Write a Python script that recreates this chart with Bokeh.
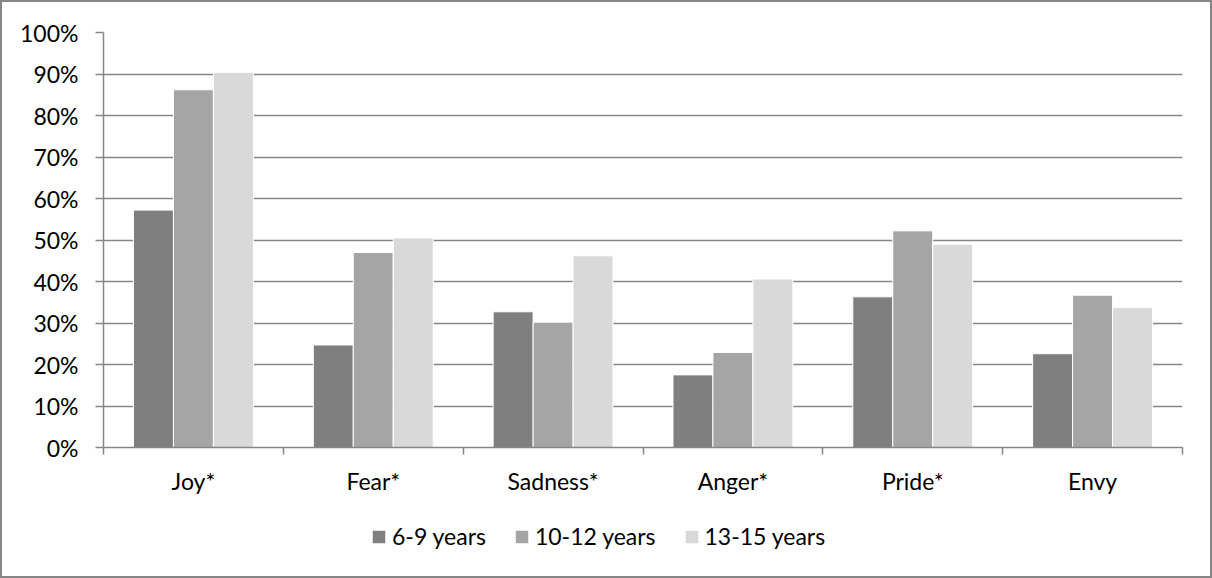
from bokeh.plotting import figure
from bokeh.layouts import column
from bokeh.models import (ColumnDataSource, Range1d, FixedTicker, NumeralTickFormatter,
                          Legend, LegendItem)
from bokeh.transform import dodge
from bokeh.embed import file_html
from bokeh.resources import INLINE

categories = ["Joy*", "Fear*", "Sadness*", "Anger*", "Pride*", "Envy"]
series_names = ["6-9 years", "10-12 years", "13-15 years"]
age_6_9 = [0.572, 0.247, 0.327, 0.175, 0.363, 0.226]
age_10_12 = [0.862, 0.470, 0.302, 0.229, 0.522, 0.367]
age_13_15 = [0.904, 0.505, 0.462, 0.406, 0.490, 0.337]
y_ticks = [0.0, 0.1, 0.2, 0.3, 0.4, 0.5, 0.6, 0.7, 0.8, 0.9, 1.0]
colors = ["#7f7f7f", "#a5a5a5", "#d9d9d9"]

FONT = "Lato"
FS = "23px"
AXIS_COLOR = "#868686"

n = len(categories)
src = ColumnDataSource(dict(
    x=[i + 0.5 for i in range(n)],
    s1=age_6_9, s2=age_10_12, s3=age_13_15,
))
bw = 1 / 4.5
cols = ["s1", "s2", "s3"]
offsets = [-bw, 0, bw]

# ---- main chart ----
p = figure(frame_width=1079, frame_height=415, output_backend="svg", toolbar_location=None,
           x_range=Range1d(0, n), y_range=Range1d(0, 1),
           min_border_left=101, min_border_right=28, min_border_top=30, min_border_bottom=50)
p.outline_line_color = None
p.background_fill_color = "white"
p.border_fill_color = "white"

for k in range(3):
    p.vbar(x=dodge("x", offsets[k], range=p.x_range), top=cols[k], bottom=0, width=bw,
           source=src, fill_color=colors[k], line_color="white", line_width=1)

ya = p.yaxis[0]
ya.ticker = FixedTicker(ticks=y_ticks, minor_ticks=[])
ya.formatter = NumeralTickFormatter(format="0%")
ya.axis_line_color = AXIS_COLOR
ya.axis_line_width = 1.5
ya.major_tick_line_color = AXIS_COLOR
ya.major_tick_line_width = 1.5
ya.major_tick_out = 8
ya.major_tick_in = 0
ya.minor_tick_line_color = None
ya.major_label_text_font = FONT
ya.major_label_text_font_size = FS
ya.major_label_text_color = "black"
ya.major_label_standoff = 17

xa = p.xaxis[0]
xa.ticker = FixedTicker(ticks=[i + 0.5 for i in range(n)], minor_ticks=list(range(n + 1)))
xa.major_label_overrides = {i + 0.5: c for i, c in enumerate(categories)}
xa.axis_line_color = AXIS_COLOR
xa.axis_line_width = 1.5
xa.major_tick_line_color = None
xa.major_tick_out = 0
xa.major_tick_in = 0
xa.minor_tick_line_color = AXIS_COLOR
xa.minor_tick_line_width = 1.5
xa.minor_tick_out = 7
xa.minor_tick_in = 0
xa.major_label_text_font = FONT
xa.major_label_text_font_size = FS
xa.major_label_text_color = "black"
xa.major_label_standoff = 12

p.xgrid.grid_line_color = None
p.ygrid.ticker = FixedTicker(ticks=y_ticks)
p.ygrid.grid_line_color = AXIS_COLOR
p.ygrid.grid_line_width = 1.5

# ---- legend strip (same series, drawn out of its view so only the legend shows) ----
p2 = figure(width=1208, height=79, output_backend="svg", toolbar_location=None,
            x_range=Range1d(0, n), y_range=Range1d(2, 3), min_border=0)
p2.axis.visible = False
p2.grid.grid_line_color = None
p2.outline_line_color = None
p2.border_fill_color = "white"
leg_renderers = []
for k in range(3):
    r = p2.vbar(x=dodge("x", offsets[k], range=p2.x_range), top=cols[k], bottom=0, width=bw,
                source=src, fill_color=colors[k], line_color="white", line_width=1)
    leg_renderers.append(r)

legend = Legend(
    items=[LegendItem(label=nm, renderers=[r]) for nm, r in zip(series_names, leg_renderers)],
    orientation="horizontal", location=(267, 26),
    glyph_width=17, glyph_height=17, label_standoff=5, spacing=27,
    padding=0, margin=0, border_line_color=None, background_fill_alpha=0,
    label_text_font=FONT, label_text_font_size=FS, label_text_color="black",
)
p2.add_layout(legend)

layout = column(p, p2, spacing=0, styles={"border": "2px solid #868686"})

open("out.html", "w").write(file_html(layout, INLINE))
